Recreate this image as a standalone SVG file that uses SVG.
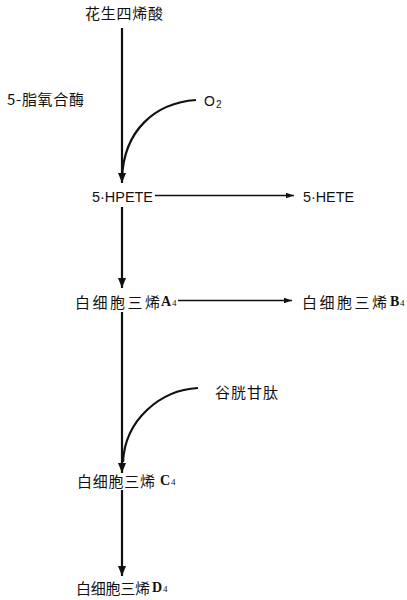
<svg xmlns="http://www.w3.org/2000/svg" width="407" height="600" viewBox="0 0 407 600">
<style>
.cjk{font-family:"Noto Sans CJK SC","Noto Sans",sans-serif;font-size:15px;fill:#111;dominant-baseline:central}
.lat{font-family:"Liberation Sans","DejaVu Sans",sans-serif;font-size:14px;fill:#111;dominant-baseline:central}
.ser{font-family:"Liberation Serif","DejaVu Serif",serif;font-size:14px;font-weight:bold;fill:#111;dominant-baseline:central}
.sub{font-family:"Liberation Serif","DejaVu Serif",serif;font-size:9px;fill:#111}
.main{stroke:#111;stroke-width:2.2;fill:none}
.thin{stroke:#111;stroke-width:1.4;fill:none}
</style>
<defs>
<marker id="ah" viewBox="0 0 10 10" refX="10" refY="5" markerWidth="10" markerHeight="10" markerUnits="userSpaceOnUse" orient="auto">
<path d="M0,1 L10,5 L0,9 Z" fill="#111"/>
</marker>
<marker id="ahs" viewBox="0 0 10 10" refX="10" refY="5" markerWidth="10" markerHeight="8" markerUnits="userSpaceOnUse" orient="auto">
<path d="M0,1.5 L10,5 L0,8.5 Z" fill="#111"/>
</marker>
</defs>
<g id="connectors">
<line class="main" x1="122" y1="28" x2="122" y2="183" marker-end="url(#ah)"/>
<path class="main" d="M196,100 C155,103 124,130 122,178"/>
<line class="thin" x1="155" y1="195.5" x2="294" y2="195.5" marker-end="url(#ahs)"/>
<line class="main" x1="122" y1="207" x2="122" y2="288" marker-end="url(#ah)"/>
<line class="thin" x1="178" y1="300.5" x2="292" y2="300.5" marker-end="url(#ahs)"/>
<line class="main" x1="122" y1="312" x2="122" y2="473" marker-end="url(#ah)"/>
<path class="main" d="M198,388 C160,390 125,420 123,462"/>
<line class="main" x1="122" y1="490" x2="122" y2="576" marker-end="url(#ah)"/>
</g>
<g id="n-arachidonic"><text class="cjk" x="85" y="12.5" textLength="78" lengthAdjust="spacing">花生四烯酸</text></g>
<g id="n-enzyme"><text class="cjk" x="7" y="98" textLength="77" lengthAdjust="spacing">5-脂氧合酶</text></g>
<g id="n-o2"><text class="lat" x="204" y="101" font-size="15">O</text><text x="216" y="108" font-family="Liberation Sans,sans-serif" font-size="10" fill="#111">2</text></g>
<g id="n-hpete"><text class="lat" x="92" y="196.5" textLength="61" lengthAdjust="spacingAndGlyphs">5·HPETE</text></g>
<g id="n-hete"><text class="lat" x="303" y="196.5" textLength="51" lengthAdjust="spacingAndGlyphs">5·HETE</text></g>
<g id="n-lta4"><text class="cjk" x="75" y="301" textLength="85" lengthAdjust="spacing">白细胞三烯</text><text class="ser" x="161" y="301">A</text><text class="sub" x="172" y="306">4</text></g>
<g id="n-ltb4"><text class="cjk" x="302" y="301" textLength="85" lengthAdjust="spacing">白细胞三烯</text><text class="ser" x="390" y="301">B</text><text class="sub" x="400" y="306">4</text></g>
<g id="n-glutathione"><text class="cjk" x="215" y="391" textLength="63" lengthAdjust="spacing">谷胱甘肽</text></g>
<g id="n-ltc4"><text class="cjk" x="77" y="480" textLength="78" lengthAdjust="spacing">白细胞三烯</text><text class="ser" x="160" y="480">C</text><text class="sub" x="171" y="485">4</text></g>
<g id="n-ltd4"><text class="cjk" x="76" y="587" textLength="74" lengthAdjust="spacing">白细胞三烯</text><text class="ser" x="152" y="587">D</text><text class="sub" x="163" y="592">4</text></g>
</svg>
